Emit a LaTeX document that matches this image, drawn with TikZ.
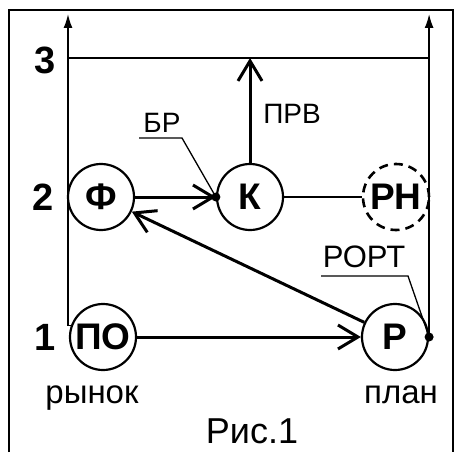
\documentclass[tikz,border=0pt]{standalone}
\usepackage{fontspec}
\setmainfont{Liberation Sans}
\usetikzlibrary{arrows.meta}
\begin{document}
\begin{tikzpicture}[x=1pt,y=-1pt,
  circ/.style={circle,draw,line width=2.2pt,minimum size=66pt,inner sep=0pt,font=\fontsize{37}{37}\selectfont\bfseries},
  thinln/.style={line width=1.5pt},
  leader/.style={line width=1.3pt},
  bigarr/.style={line width=3pt,-{Straight Barb[length=20pt,width=24pt]}},
  ax/.style={line width=1.6pt,-{Latex[length=14pt,width=9pt]}},
  lab/.style={font=\fontsize{28}{28}\selectfont,anchor=base,inner sep=0pt},
  num/.style={font=\fontsize{38}{38}\selectfont\bfseries,inner sep=0pt}
]
\useasboundingbox (0,0) rectangle (468,452);
\fill[white] (0,0) rectangle (468,452);
\draw[line width=2.5pt] (9,452) -- (9,10) -- (453,10) -- (453,452);

% nodes
\node[circ] (F) at (101,197) {Ф};
\node[circ] (K) at (250,197) {К};
\node[circ,dash pattern=on 9pt off 6pt,line width=2.6pt] (RN) at (396,197) {РН};
\node[circ] (PO) at (103,337) {ПО};
\node[circ] (R) at (395,337) {Р};

% coordinates
\coordinate (topL) at (68,14);
\coordinate (topR) at (429,14);
\coordinate (L3a) at (68,58);
\coordinate (L3b) at (429,58);
\coordinate (P3) at (250,58);

% axes and level 3
\draw[ax] (PO.160) -| (topL);
\draw[ax] (R.east) -- (R.east |- topR);
\draw[thinln] (L3a) -- (L3b);

% connectors
\draw[bigarr] (K.north) -- (P3);
\draw[bigarr] (F) -- (K.west);
\draw[bigarr] (R) -- (F);
\draw[bigarr] (PO) -- (R);
\draw[thinln] (K) -- (RN);
\fill (K.west) circle (4.5pt);
\fill (R.east) circle (4.5pt);

% labels
\node[lab] (prv) at (292,123) {ПРВ};
\node[lab] (br) at (162,132) {БР};
\coordinate (brA) at (139,138);
\coordinate (brB) at (182,138);
\draw[leader] (brA) -- (brB) -- (K.west);
\node[lab,font=\fontsize{31}{31}\selectfont] (rort) at (364,267) {РОРТ};
\coordinate (roA) at (321,276);
\coordinate (roB) at (408,276);
\draw[leader] (roA) -- (roB) -- (R.east);

\node[num] (n3) at (45,60) {3};
\node[num] (n2) at (43,197) {2};
\node[num] (n1) at (45,337) {1};

\node[lab,font=\fontsize{33}{33}\selectfont] (market) at (92,403) {рынок};
\node[lab,font=\fontsize{33}{33}\selectfont] (plan) at (401,403) {план};
\node[lab,font=\fontsize{36}{36}\selectfont] (fig) at (252,443) {Рис.1};
\end{tikzpicture}
\end{document}
